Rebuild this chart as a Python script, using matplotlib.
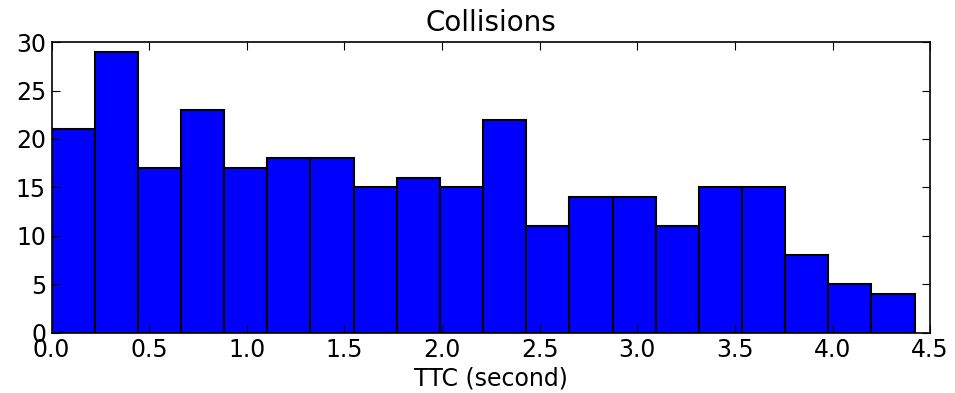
import matplotlib
import numpy as np

matplotlib.use("Agg")
import matplotlib.pyplot as plt  # noqa: E402

# Histogram of time-to-collision values, 20 equal bins
counts = [21, 29, 17, 23, 17, 18, 18, 15, 16, 15,
          22, 11, 14, 14, 11, 15, 15, 8, 5, 4]
ttc_min, ttc_max = 0.0, 4.42
x_ticks = [0.0, 0.5, 1.0, 1.5, 2.0, 2.5, 3.0, 3.5, 4.0, 4.5]
y_ticks = [0, 5, 10, 15, 20, 25, 30]

edges = np.linspace(ttc_min, ttc_max, len(counts) + 1)

fig = plt.figure(figsize=(9.55, 3.93), dpi=100)
ax = fig.add_axes([0.054, 0.153, 0.920, 0.740])

ax.bar(edges[:-1], counts, width=np.diff(edges), align="edge",
       color="#0000ff", edgecolor="black", linewidth=1.5)

ax.set_xlim(0, 4.5)
ax.set_ylim(0, 30)
ax.set_xticks(x_ticks)
ax.set_xticklabels([f"{t:.1f}" for t in x_ticks])
ax.set_yticks(y_ticks)
ax.tick_params(direction="in", top=True, right=True, length=6,
               width=0.8, labelsize=17, pad=4)
for side in ax.spines.values():
    side.set_linewidth(1.2)

ax.set_xlabel("TTC (second)", fontsize=17, labelpad=3)
ax.set_title("Collisions", fontsize=20, pad=8)

fig.savefig("out.png", dpi=100)
